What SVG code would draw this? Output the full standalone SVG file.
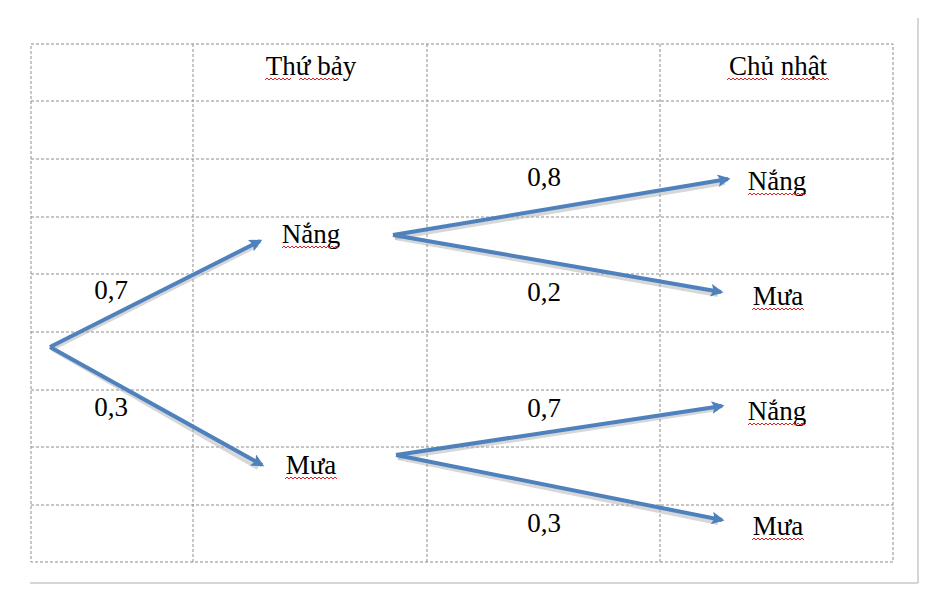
<svg xmlns="http://www.w3.org/2000/svg" width="930" height="595" viewBox="0 0 930 595">
<style>
.grid{stroke:#8c8c8c;stroke-width:1;stroke-dasharray:3 2;fill:none}
.frame{stroke:#c8c8c8;stroke-width:1.5;fill:none}
.t{font-family:"Liberation Serif","Times New Roman",serif;font-size:27px;fill:#000;text-anchor:middle}
.arr{stroke:#4f81bd;stroke-width:4;fill:none;marker-end:url(#ah)}
.sh{stroke:#b0b0b0;stroke-width:4;fill:none;opacity:0.5}
.sq{stroke:#e02020;stroke-width:1;fill:none}
</style>
<defs>
<marker id="ah" viewBox="0 0 10 10" refX="8" refY="5" markerWidth="4" markerHeight="3.2" orient="auto" markerUnits="strokeWidth">
<path d="M0,0 L10,5 L0,10 L2,5 z" fill="#4f81bd"/>
</marker>
</defs>
<rect width="930" height="595" fill="#fff"/>
<g id="frame">
<line class="frame" x1="918" y1="18" x2="918" y2="583"/>
<line class="frame" x1="30" y1="583" x2="918" y2="583"/>
</g>
<g id="table">
<rect class="grid" x="31" y="44" width="862" height="518"/>
<line class="grid" x1="193" y1="44" x2="193" y2="562"/>
<line class="grid" x1="427" y1="44" x2="427" y2="562"/>
<line class="grid" x1="660" y1="44" x2="660" y2="562"/>
<line class="grid" x1="31" y1="101" x2="893" y2="101"/>
<line class="grid" x1="31" y1="159" x2="893" y2="159"/>
<line class="grid" x1="31" y1="217" x2="893" y2="217"/>
<line class="grid" x1="31" y1="274" x2="893" y2="274"/>
<line class="grid" x1="31" y1="332" x2="893" y2="332"/>
<line class="grid" x1="31" y1="390" x2="893" y2="390"/>
<line class="grid" x1="31" y1="447" x2="893" y2="447"/>
<line class="grid" x1="31" y1="505" x2="893" y2="505"/>
</g>
<g id="connectors">
<path class="sh" d="M52,349 L258,245"/>
<path class="sh" d="M52,349 L258,468"/>
<path class="sh" d="M395,238 L725,183"/>
<path class="sh" d="M395,238 L718,295"/>
<path class="sh" d="M398,458 L718,409"/>
<path class="sh" d="M398,458 L718,523"/>
<path class="arr" d="M50,347 L260,241"/>
<path class="arr" d="M50,347 L262,465"/>
<path class="arr" d="M393,235 L728,179"/>
<path class="arr" d="M393,235 L721,292"/>
<path class="arr" d="M396,455 L722,406"/>
<path class="arr" d="M396,455 L722,520"/>
</g>
<g id="header-sat"><text class="t" x="311" y="75">Thứ bảy</text></g>
<g id="header-sun"><text class="t" x="778" y="75">Chủ nhật</text></g>
<g id="sat-nang"><text class="t" x="311" y="243">Nắng</text></g>
<g id="sat-mua"><text class="t" x="311" y="474">Mưa</text></g>
<g id="sun-nang-1"><text class="t" x="777" y="190">Nắng</text></g>
<g id="sun-mua-1"><text class="t" x="778" y="305">Mưa</text></g>
<g id="sun-nang-2"><text class="t" x="777" y="420">Nắng</text></g>
<g id="sun-mua-2"><text class="t" x="778" y="535">Mưa</text></g>
<g id="labels">
<text class="t" x="111" y="299">0,7</text>
<text class="t" x="111" y="416">0,3</text>
<text class="t" x="544" y="186">0,8</text>
<text class="t" x="544" y="301">0,2</text>
<text class="t" x="544" y="417">0,7</text>
<text class="t" x="544" y="532">0,3</text>
</g>
<g id="spellcheck">
<path class="sq" d="M265,80 l2,-2 l2,2 l2,-2 l2,2 l2,-2 l2,2 l2,-2 l2,2 l2,-2 l2,2 l2,-2 l2,2 l2,-2 M289,80 l2,-2 M299,80 l2,-2 l2,2 l2,-2 l2,2 l2,-2 l2,2 l2,-2 l2,2 l2,-2 l2,2 l2,-2 l2,2 l2,-2 l2,2 l2,-2 l2,2 l2,-2 l2,2 l2,-2 l2,2"/>
<path class="sq" d="M727,80 l2,-2 l2,2 l2,-2 l2,2 l2,-2 l2,2 l2,-2 l2,2 l2,-2 l2,2 l2,-2 l2,2 l2,-2 l2,2 l2,-2 l2,2 l2,-2 l2,2 l2,-2 l2,2 M781,80 l2,-2 l2,2 l2,-2 l2,2 l2,-2 l2,2 l2,-2 l2,2 l2,-2 l2,2 l2,-2 l2,2 l2,-2 l2,2 l2,-2 l2,2 l2,-2 l2,2 l2,-2 l2,2 l2,-2 l2,2 l2,-2 l2,2"/>
<path class="sq" d="M282,248 l2,-2 l2,2 l2,-2 l2,2 l2,-2 l2,2 l2,-2 l2,2 l2,-2 l2,2 l2,-2 l2,2 l2,-2 l2,2 l2,-2 l2,2 l2,-2 l2,2 l2,-2 l2,2 l2,-2 l2,2 l2,-2 l2,2 l2,-2 l2,2 l2,-2 l2,2"/>
<path class="sq" d="M285,479 l2,-2 l2,2 l2,-2 l2,2 l2,-2 l2,2 l2,-2 l2,2 l2,-2 l2,2 l2,-2 l2,2 l2,-2 l2,2 l2,-2 l2,2 l2,-2 l2,2 l2,-2 l2,2 l2,-2 l2,2 l2,-2 l2,2 l2,-2 l2,2"/>
<path class="sq" d="M748,195 l2,-2 l2,2 l2,-2 l2,2 l2,-2 l2,2 l2,-2 l2,2 l2,-2 l2,2 l2,-2 l2,2 l2,-2 l2,2 l2,-2 l2,2 l2,-2 l2,2 l2,-2 l2,2 l2,-2 l2,2 l2,-2 l2,2 l2,-2 l2,2 l2,-2 l2,2 l2,-2"/>
<path class="sq" d="M752,310 l2,-2 l2,2 l2,-2 l2,2 l2,-2 l2,2 l2,-2 l2,2 l2,-2 l2,2 l2,-2 l2,2 l2,-2 l2,2 l2,-2 l2,2 l2,-2 l2,2 l2,-2 l2,2 l2,-2 l2,2 l2,-2 l2,2 l2,-2 l2,2"/>
<path class="sq" d="M748,425 l2,-2 l2,2 l2,-2 l2,2 l2,-2 l2,2 l2,-2 l2,2 l2,-2 l2,2 l2,-2 l2,2 l2,-2 l2,2 l2,-2 l2,2 l2,-2 l2,2 l2,-2 l2,2 l2,-2 l2,2 l2,-2 l2,2 l2,-2 l2,2 l2,-2 l2,2 l2,-2"/>
<path class="sq" d="M752,540 l2,-2 l2,2 l2,-2 l2,2 l2,-2 l2,2 l2,-2 l2,2 l2,-2 l2,2 l2,-2 l2,2 l2,-2 l2,2 l2,-2 l2,2 l2,-2 l2,2 l2,-2 l2,2 l2,-2 l2,2 l2,-2 l2,2 l2,-2 l2,2"/>
</g>
</svg>
